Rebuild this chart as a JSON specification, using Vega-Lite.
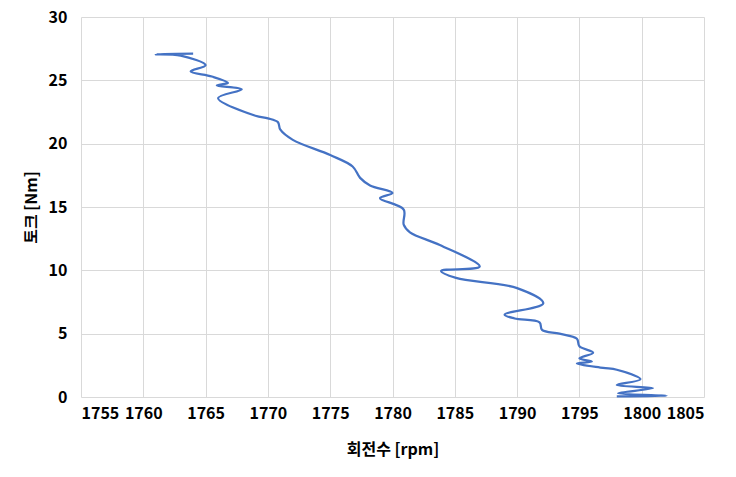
{
  "$schema": "https://vega.github.io/schema/vega-lite/v6.json",
  "autosize": {"type": "none"},
  "width": 623,
  "height": 380,
  "padding": {"left": 81, "top": 17, "right": 32, "bottom": 80},
  "background": "white",
  "config": {
    "view": {"stroke": null},
    "font": "Noto Sans CJK KR",
    "axis": {
      "domain": false,
      "ticks": false,
      "gridColor": "#D9D9D9",
      "gridWidth": 1,
      "labelFont": "Noto Sans CJK KR",
      "labelFontWeight": "bold",
      "labelFontSize": 16,
      "labelColor": "#000000",
      "titleFont": "Noto Sans CJK KR",
      "titleFontWeight": "bold",
      "titleFontSize": 16,
      "titleColor": "#000000"
    }
  },
  "data": {
    "values": [
      {"i": 1, "rpm": 1764.0, "torque": 27.1},
      {"i": 2, "rpm": 1761.0, "torque": 27.05},
      {"i": 3, "rpm": 1763.0, "torque": 26.95},
      {"i": 4, "rpm": 1765.0, "torque": 26.2},
      {"i": 5, "rpm": 1763.8, "torque": 25.7},
      {"i": 6, "rpm": 1765.5, "torque": 25.3},
      {"i": 7, "rpm": 1766.8, "torque": 24.8},
      {"i": 8, "rpm": 1765.9, "torque": 24.6},
      {"i": 9, "rpm": 1767.9, "torque": 24.3},
      {"i": 10, "rpm": 1766.0, "torque": 23.6},
      {"i": 11, "rpm": 1769.0, "torque": 22.2},
      {"i": 12, "rpm": 1770.0, "torque": 22.0},
      {"i": 13, "rpm": 1770.8, "torque": 21.7},
      {"i": 14, "rpm": 1771.0, "torque": 21.1},
      {"i": 15, "rpm": 1772.0, "torque": 20.3},
      {"i": 16, "rpm": 1775.0, "torque": 19.1},
      {"i": 17, "rpm": 1776.8, "torque": 18.2},
      {"i": 18, "rpm": 1777.4, "torque": 17.3},
      {"i": 19, "rpm": 1778.2, "torque": 16.7},
      {"i": 20, "rpm": 1780.0, "torque": 16.1},
      {"i": 21, "rpm": 1779.0, "torque": 15.7},
      {"i": 22, "rpm": 1780.9, "torque": 14.8},
      {"i": 23, "rpm": 1780.9, "torque": 13.6},
      {"i": 24, "rpm": 1781.4, "torque": 13.0},
      {"i": 25, "rpm": 1783.8, "torque": 12.0},
      {"i": 26, "rpm": 1787.0, "torque": 10.3},
      {"i": 27, "rpm": 1783.9, "torque": 9.95},
      {"i": 28, "rpm": 1785.1, "torque": 9.4},
      {"i": 29, "rpm": 1790.0, "torque": 8.6},
      {"i": 30, "rpm": 1792.1, "torque": 7.4},
      {"i": 31, "rpm": 1789.0, "torque": 6.5},
      {"i": 32, "rpm": 1789.8, "torque": 6.2},
      {"i": 33, "rpm": 1791.8, "torque": 5.9},
      {"i": 34, "rpm": 1792.0, "torque": 5.3},
      {"i": 35, "rpm": 1793.4, "torque": 5.0},
      {"i": 36, "rpm": 1794.8, "torque": 4.6},
      {"i": 37, "rpm": 1795.0, "torque": 4.0},
      {"i": 38, "rpm": 1796.1, "torque": 3.5},
      {"i": 39, "rpm": 1795.0, "torque": 3.05},
      {"i": 40, "rpm": 1796.0, "torque": 2.8},
      {"i": 41, "rpm": 1794.8, "torque": 2.65},
      {"i": 42, "rpm": 1796.9, "torque": 2.3},
      {"i": 43, "rpm": 1798.0, "torque": 2.15},
      {"i": 44, "rpm": 1799.9, "torque": 1.4},
      {"i": 45, "rpm": 1798.0, "torque": 0.95},
      {"i": 46, "rpm": 1800.9, "torque": 0.7},
      {"i": 47, "rpm": 1798.1, "torque": 0.3},
      {"i": 48, "rpm": 1802.0, "torque": 0.1},
      {"i": 49, "rpm": 1798.0, "torque": 0.05}
    ]
  },
  "mark": {"type": "line", "color": "#4472C4", "strokeWidth": 2.25, "interpolate": "catmull-rom"},
  "encoding": {
    "x": {
      "field": "rpm", "type": "quantitative",
      "scale": {"domain": [1755, 1805], "nice": false, "zero": false},
      "axis": {"values": [1755,1760,1765,1770,1775,1780,1785,1790,1795,1800,1805], "title": "회전수 [rpm]", "labelPadding": 8, "titlePadding": 20, "format": "d"}
    },
    "y": {
      "field": "torque", "type": "quantitative",
      "scale": {"domain": [0, 30], "nice": false},
      "axis": {"values": [0,5,10,15,20,25,30], "title": "토크 [Nm]", "labelPadding": 14, "titlePadding": 9}
    },
    "order": {"field": "i", "type": "quantitative"}
  }
}
